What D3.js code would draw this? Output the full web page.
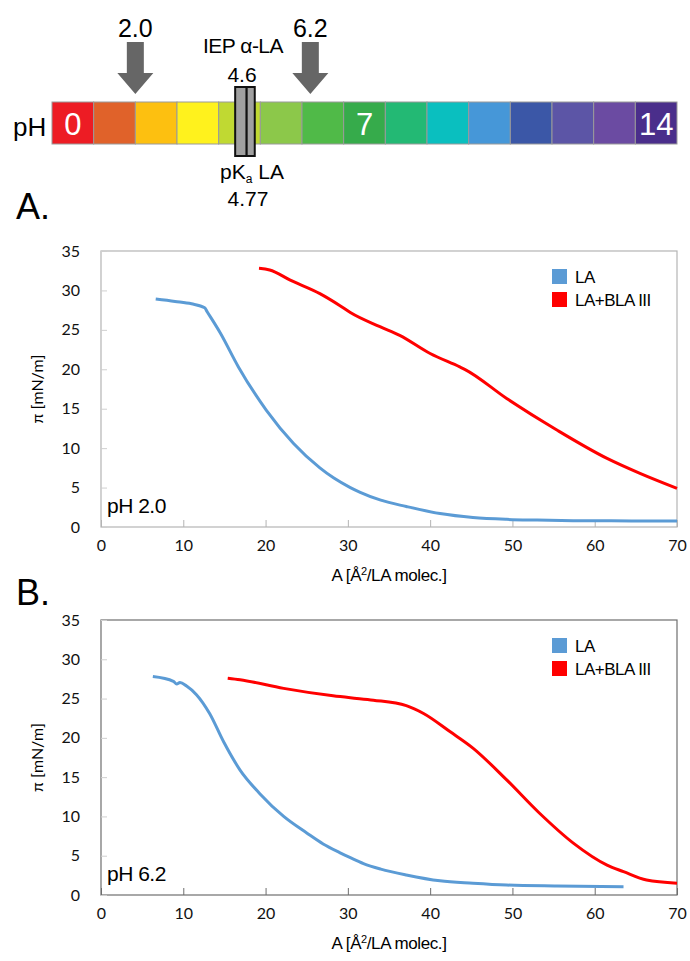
<!DOCTYPE html>
<html>
<head>
<meta charset="utf-8">
<script src="https://cdn.jsdelivr.net/npm/d3@7"></script>
<style>
  body { margin: 0; background: #fff; }
  text { font-family: "Liberation Sans", Arial, sans-serif; }
  .tick text { font-family: Lato, "Open Sans", sans-serif; }
</style>
</head>
<body>
<script>
// pH strip
const phValues = d3.range(0, 15);
const phColors = ["#ed1c24", "#e0622a", "#fdc010", "#fff21d", "#c0d932", "#8cc84a", "#50ba48",
                  "#36ab4b", "#23b974", "#0abfbf", "#4697d8", "#3b57a7", "#5c55a6", "#6b4ba2", "#4a2e8b"];
const phLabelled = [0, 7, 14];
const arrowsAt = [2.0, 6.2];
const iep = 4.6, pka = 4.77;

// isotherms, A in Å²/molecule, pi in mN/m
const aLA_A  = [6.65, 9, 11, 12.6, 12.9, 14.5, 16.7, 20.1, 23.4, 26.6, 28.3, 30.3, 31.5, 34, 37.1, 41.2, 45.2, 49.3, 53, 57.4, 62, 66, 70];
const piLA_A = [28.9, 28.6, 28.3, 27.8, 27.3, 24.6, 20.3, 14.8, 10.6, 7.5, 6.2, 5.0, 4.4, 3.4, 2.6, 1.7, 1.2, 0.97, 0.88, 0.8, 0.78, 0.76, 0.76];
const aBLA_A  = [19.2, 20.5, 23.0, 26.6, 29.0, 30.3, 33.9, 36.3, 40.0, 43.6, 44.2, 49.3, 55.4, 61.5, 65.5, 70];
const piBLA_A = [32.8, 32.6, 31.3, 29.6, 28.1, 27.2, 25.4, 24.3, 22.0, 20.3, 20.0, 16.3, 12.3, 8.7, 6.8, 4.9];

const aLA_B  = [6.3, 8.8, 9.2, 9.6, 10.4, 11.6, 13.2, 14.9, 16.9, 19.3, 22.2, 25.0, 27.0, 29.0, 30.3, 31.9, 34, 37.1, 41.2, 45.2, 49.3, 55.4, 63.5];
const piLA_B = [27.8, 27.2, 26.85, 27.05, 26.6, 25.5, 23.1, 19.5, 15.9, 12.9, 10.0, 7.9, 6.5, 5.4, 4.75, 4.0, 3.3, 2.55, 1.8, 1.5, 1.27, 1.15, 1.06];
const aBLA_B  = [15.4, 16.9, 22.2, 28.2, 30.3, 33.1, 37.1, 39.2, 42.4, 45.2, 49.3, 53.3, 57.4, 61.5, 63.5, 66.3, 70];
const piBLA_B = [27.6, 27.4, 26.3, 25.35, 25.1, 24.8, 24.1, 23.1, 20.8, 18.7, 14.65, 10.4, 6.6, 3.8, 2.97, 1.9, 1.5];

const xTicks = [0, 10, 20, 30, 40, 50, 60, 70];
const yTicks = [0, 5, 10, 15, 20, 25, 30, 35];
const seriesNames = ["LA", "LA+BLA III"];
const seriesColors = ["#5b9bd5", "#ff0000"];

const width = 690, height = 961;
const svg = d3.select("body").append("svg")
    .attr("width", width)
    .attr("height", height);

// ---- pH bar ----
const phX = d3.scaleLinear().domain([0, 15]).range([52, 677]);
const cellW = phX(1) - phX(0);
const barTop = 102, barBot = 144;

svg.append("text").attr("x", 13).attr("y", 136).attr("font-size", 26).text("pH");

svg.selectAll("rect.cell").data(phValues).enter().append("rect")
    .attr("class", "cell")
    .attr("x", d => phX(d))
    .attr("y", barTop)
    .attr("width", cellW)
    .attr("height", barBot - barTop)
    .attr("fill", (d, i) => phColors[i])
    .attr("stroke", "#9a9a9a")
    .attr("stroke-width", 1);

svg.selectAll("text.phnum").data(phLabelled).enter().append("text")
    .attr("x", d => phX(d) + cellW / 2)
    .attr("y", 135)
    .attr("text-anchor", "middle")
    .attr("font-size", 31)
    .attr("fill", "#fff")
    .text(d => d);

// arrows
arrowsAt.forEach(v => {
    const cx = phX(v);
    svg.append("path")
        .attr("d", `M${cx - 8.5},42 H${cx + 8.5} V73 H${cx + 18} L${cx},94 L${cx - 18},73 H${cx - 8.5} Z`)
        .attr("fill", "#666");
    svg.append("text").attr("x", cx).attr("y", 37)
        .attr("text-anchor", "middle").attr("font-size", 25)
        .text(v.toFixed(1));
});

// IEP / pKa marker
const mLeft = phX(iep) - 8.5, mMid = phX(iep) + 3, mRight = phX(pka) + 4;
svg.append("rect").attr("x", mLeft).attr("y", 87).attr("width", mMid - mLeft).attr("height", 69)
    .attr("fill", "#a0a0a0").attr("stroke", "#111").attr("stroke-width", 2);
svg.append("rect").attr("x", mMid).attr("y", 87).attr("width", mRight - mMid).attr("height", 69)
    .attr("fill", "#a0a0a0").attr("stroke", "#111").attr("stroke-width", 2);

svg.append("text").attr("x", 243).attr("y", 53).attr("text-anchor", "middle")
    .attr("font-size", 21).attr("letter-spacing", -0.5).text("IEP α-LA");
svg.append("text").attr("x", 242).attr("y", 82).attr("text-anchor", "middle")
    .attr("font-size", 21).text(iep);
const pk = svg.append("text").attr("x", 252).attr("y", 179).attr("text-anchor", "middle")
    .attr("font-size", 21);
pk.append("tspan").text("pK");
pk.append("tspan").attr("font-size", 12).attr("dy", 4).text("a");
pk.append("tspan").attr("dy", -4).text(" LA");
svg.append("text").attr("x", 248).attr("y", 206).attr("text-anchor", "middle")
    .attr("font-size", 21).text(pka);

// ---- isotherm panels ----
function panel(opts) {
    const { top, bottom, letter, letterY, phLabel, la, bla, border } = opts;
    const left = 101, right = 677;
    const x = d3.scaleLinear().domain([0, 70]).range([left, right]);
    const y = d3.scaleLinear().domain([0, 35]).range([bottom, top]);
    const g = svg.append("g");

    g.append("text").attr("x", 16).attr("y", letterY).attr("font-size", 36).text(letter);

    g.append("rect").attr("x", left).attr("y", top)
        .attr("width", right - left).attr("height", bottom - top)
        .attr("fill", "none").attr("stroke", border).attr("stroke-width", 1.2);

    const xa = g.append("g").attr("transform", `translate(0,${bottom})`)
        .call(d3.axisBottom(x).tickValues(xTicks).tickSizeInner(-7).tickSizeOuter(0).tickPadding(13));
    xa.select(".domain").remove();
    xa.selectAll(".tick line").attr("stroke", border);
    xa.selectAll(".tick text").attr("font-size", 16).attr("fill", "#111");

    const ya = g.append("g").attr("transform", `translate(${left},0)`)
        .call(d3.axisLeft(y).tickValues(yTicks).tickSizeInner(-6).tickSizeOuter(0).tickPadding(21));
    ya.select(".domain").remove();
    ya.selectAll(".tick line").attr("stroke", "#cfcfcf");
    ya.selectAll(".tick text").attr("font-size", 16).attr("fill", "#111");

    g.append("text")
        .attr("transform", `translate(43,${(top + bottom) / 2}) rotate(-90)`)
        .attr("text-anchor", "middle").attr("font-size", 16)
        .style("font-family", "Lato, sans-serif")
        .text("π [mN/m]");

    const xl = g.append("text").attr("x", (left + right) / 2).attr("y", bottom + 54)
        .attr("text-anchor", "middle").attr("font-size", 17).attr("letter-spacing", -0.4);
    xl.append("tspan").text("A [Å");
    xl.append("tspan").attr("font-size", 11).attr("dy", -6).text("2");
    xl.append("tspan").attr("dy", 6).text("/LA molec.]");

    g.append("text").attr("x", 107).attr("y", bottom - 14).attr("font-size", 21)
        .attr("letter-spacing", -0.5).text(phLabel);

    const line = d3.line().x(d => x(d[0])).y(d => y(d[1])).curve(d3.curveMonotoneX);
    [la, bla].forEach((s, i) => {
        g.append("path")
            .datum(d3.zip(s[0], s[1]))
            .attr("d", line)
            .attr("fill", "none")
            .attr("stroke", seriesColors[i])
            .attr("stroke-width", 3);
    });

    const lg = g.append("g").attr("transform", `translate(552,${top + 18})`);
    seriesNames.forEach((n, i) => {
        lg.append("rect").attr("x", 0).attr("y", i * 23).attr("width", 15).attr("height", 15)
            .attr("fill", seriesColors[i]);
        lg.append("text").attr("x", 23).attr("y", i * 23 + 14).attr("font-size", 17)
            .attr("letter-spacing", -0.5).text(n);
    });
}

panel({ top: 251, bottom: 527, letter: "A.", letterY: 219, phLabel: "pH 2.0",
        la: [aLA_A, piLA_A], bla: [aBLA_A, piBLA_A], border: "#b4b4b4" });
panel({ top: 620, bottom: 895, letter: "B.", letterY: 605, phLabel: "pH 6.2",
        la: [aLA_B, piLA_B], bla: [aBLA_B, piBLA_B], border: "#6e6e6e" });
</script>
</body>
</html>
